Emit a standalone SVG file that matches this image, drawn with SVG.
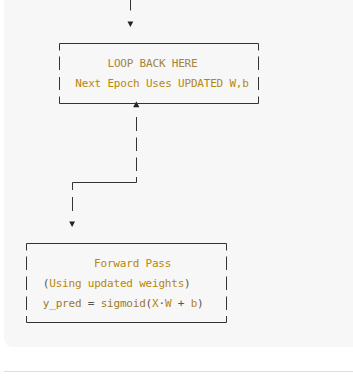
<svg xmlns="http://www.w3.org/2000/svg" width="353" height="377" viewBox="0 0 353 377">
<style>
.t{font-family:"DejaVu Sans Mono","Liberation Mono",monospace;font-size:11px;letter-spacing:-0.2px;white-space:pre}
.g{fill:#b8860b}.m{fill:#9a7b2e}.o{fill:#555}
.ln{fill:none;stroke:#333;stroke-width:1}
.ar{fill:#222}
</style>
<rect x="0" y="0" width="353" height="377" fill="#ffffff"/>
<path d="M4 0 H353 V347 H14 Q4 347 4 337 Z" fill="#f7f7f7"/>
<line x1="4" y1="371.5" x2="353" y2="371.5" stroke="#dddddd" stroke-width="1"/>
<g id="connectors">
<path class="ln" d="M130.5 0 V10.5"/>
<polygon class="ar" points="127.5,21.5 133.3,21.5 130.4,27"/>
<path class="ln" d="M136.5 117 V131 M136.5 137.5 V151 M136.5 157.5 V171 M136.5 177 V182.5 H72.5 V190 M72.5 197 V211"/>
<polygon class="ar" points="69.2,221.5 75,221.5 72.1,227"/>
<polygon class="ar" points="133.2,107.2 139.4,107.2 136.3,101.2"/>
</g>
<g id="loop-back">
<path class="ln" d="M59.5 43.5 H258.5 M59.5 103.5 H258.5 M59.5 43.5 V50.5 M59.5 56.5 V70 M59.5 77 V90 M59.5 96.5 V103.5 M258.5 43.5 V50.5 M258.5 56.5 V70 M258.5 77 V90 M258.5 96.5 V103.5"/>
<text class="t" x="107.5" y="66.7" fill="#a3843c">LOOP BACK HERE</text>
<text class="t g" x="75.3" y="86.7">Next Epoch Uses UPDATED W,b</text>
</g>
<g id="forward-pass">
<path class="ln" d="M26.5 243.5 H226.5 M26.5 322.5 H226.5 M26.5 243.5 V250.5 M26.5 256.5 V270 M26.5 276.5 V290 M26.5 296.5 V310 M26.5 316 V322.5 M226.5 243.5 V250.5 M226.5 256.5 V270 M226.5 276.5 V290 M226.5 296.5 V310 M226.5 316 V322.5"/>
<text class="t g" x="94.1" y="267">Forward Pass</text>
<text class="t" x="42.8" y="287"><tspan class="o">(</tspan><tspan class="g">Using updated weights</tspan><tspan class="o">)</tspan></text>
<text class="t" x="42.8" y="307"><tspan class="m">y_pred</tspan><tspan class="o"> = </tspan><tspan class="m">sigmoid</tspan><tspan class="o">(</tspan><tspan class="g">X</tspan><tspan class="o">·</tspan><tspan class="g">W</tspan><tspan class="o"> + </tspan><tspan class="g">b</tspan><tspan class="o">)</tspan></text>
</g>
</svg>
